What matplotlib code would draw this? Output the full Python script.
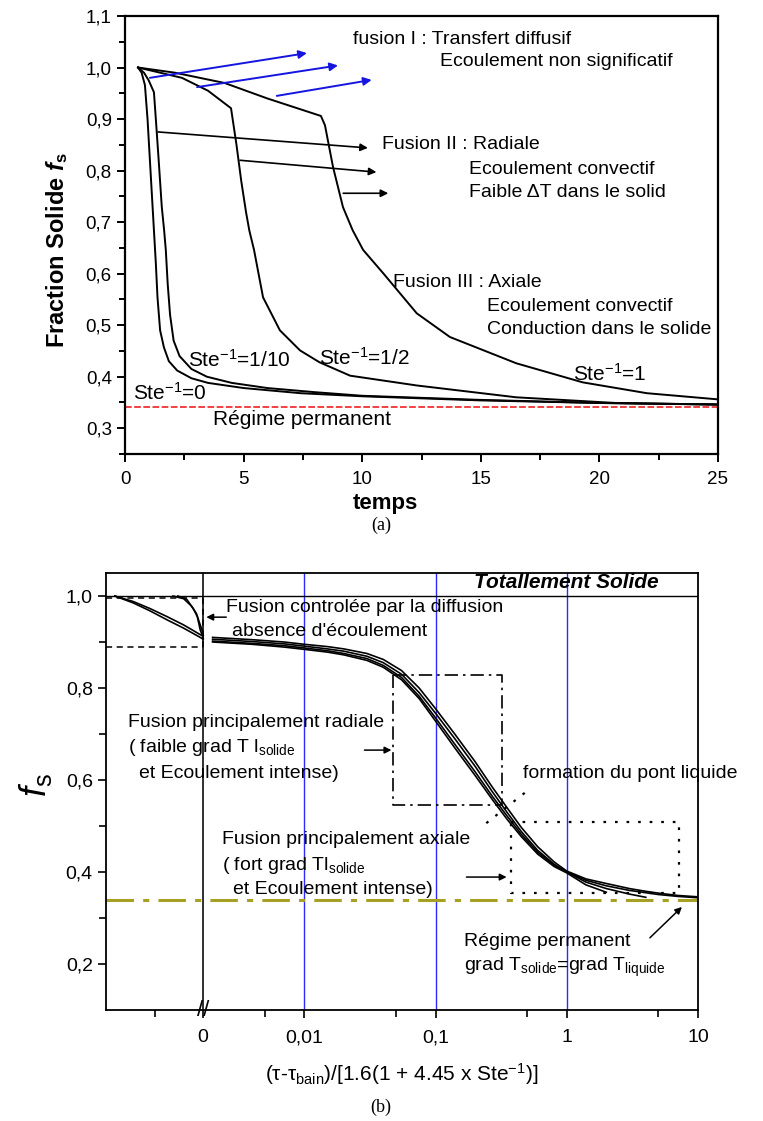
import numpy as np
import matplotlib
matplotlib.use('Agg')
import matplotlib.pyplot as plt
from matplotlib.ticker import FuncFormatter, MultipleLocator, FixedLocator
import matplotlib.transforms as mtransforms

plt.rcParams['font.family'] = ['Liberation Sans', 'DejaVu Sans']
plt.rcParams['mathtext.fontset'] = 'custom'
plt.rcParams['mathtext.rm'] = 'Liberation Sans'
plt.rcParams['mathtext.it'] = 'Liberation Sans:italic'
plt.rcParams['mathtext.bf'] = 'Liberation Sans:bold'
try:
    plt.rcParams['mathtext.bfit'] = 'Liberation Sans:italic:bold'
except Exception:
    pass
plt.rcParams['mathtext.default'] = 'regular'

# ---------------- data: panel (a) ----------------
t_ste0 = [0.55, 0.7, 0.84, 0.95, 1.05, 1.15, 1.22, 1.30, 1.37, 1.48, 1.64, 1.85, 2.2, 2.8, 3.5, 5.0, 7.4, 10, 15, 20, 25]
f_ste0 = [1.0, 0.99, 0.966, 0.90, 0.82, 0.74, 0.684, 0.62, 0.554, 0.49, 0.457, 0.43, 0.412, 0.397, 0.388, 0.378, 0.368, 0.362, 0.354, 0.349, 0.346]

t_ste10 = [0.55, 0.8, 1.0, 1.22, 1.30, 1.42, 1.55, 1.65, 1.72, 1.80, 1.90, 2.05, 2.3, 2.8, 3.45, 4.5, 6.0, 8.0, 10, 15, 20, 25]
f_ste10 = [1.0, 0.99, 0.975, 0.952, 0.90, 0.82, 0.73, 0.684, 0.646, 0.58, 0.52, 0.47, 0.44, 0.415, 0.40, 0.388, 0.378, 0.37, 0.363, 0.355, 0.349, 0.346]

t_ste2 = [0.55, 1.2, 2.4, 3.5, 4.47, 4.7, 4.9, 5.1, 5.24, 5.44, 5.82, 6.53, 7.38, 8.2, 9.49, 12.3, 16.5, 20.7, 25]
f_ste2 = [1.0, 0.993, 0.98, 0.955, 0.921, 0.85, 0.78, 0.72, 0.684, 0.646, 0.554, 0.49, 0.451, 0.428, 0.402, 0.383, 0.36, 0.349, 0.346]

t_ste1 = [0.55, 2.1, 4.2, 6.0, 8.26, 8.43, 8.77, 9.19, 9.6, 10.04, 10.9, 12.3, 13.7, 16.5, 19.3, 22.0, 25]
f_ste1 = [1.0, 0.99, 0.97, 0.94, 0.906, 0.888, 0.807, 0.729, 0.684, 0.646, 0.60, 0.523, 0.477, 0.426, 0.389, 0.368, 0.356]

steady_a = 0.341

# ---------------- data: panel (b) ----------------
xb_pre_grad = [-0.91, -0.72, -0.55, -0.37, -0.2, -0.03, 0.0]
fb_pre_g1 = [1.0, 0.988, 0.973, 0.955, 0.937, 0.916, 0.913]
fb_pre_g2 = [1.0, 0.985, 0.968, 0.948, 0.930, 0.910, 0.906]
xb_pre_s1 = [-0.31, -0.2, -0.12, -0.07, -0.03, -0.01, 0.0]
fb_pre_s1 = [1.0, 0.994, 0.978, 0.962, 0.937, 0.925, 0.915]
xb_pre_s2 = [-0.26, -0.17, -0.10, -0.06, -0.03, -0.01, 0.0]
fb_pre_s2 = [1.0, 0.993, 0.972, 0.955, 0.926, 0.915, 0.908]

xb = [0.002, 0.004, 0.007, 0.01, 0.015, 0.02, 0.03, 0.04, 0.055, 0.075, 0.1, 0.14, 0.2, 0.27, 0.35, 0.45, 0.6, 0.8, 1.0, 1.4, 2.0, 3.0, 4.0, 5.0, 7.0, 10]
fb_c1 = [0.910, 0.905, 0.900, 0.895, 0.890, 0.885, 0.875, 0.862, 0.838, 0.800, 0.755, 0.700, 0.640, 0.585, 0.540, 0.497, 0.455, 0.422, 0.402, 0.385, 0.375, 0.364, 0.358, 0.354, 0.349, 0.346]
fb_c2 = [0.906, 0.901, 0.896, 0.891, 0.885, 0.880, 0.869, 0.855, 0.830, 0.790, 0.745, 0.690, 0.630, 0.575, 0.530, 0.488, 0.447, 0.417, 0.400, 0.382, 0.370, 0.360, 0.355, 0.351, 0.347, 0.344]
fb_c3 = [0.902, 0.897, 0.892, 0.887, 0.881, 0.875, 0.864, 0.849, 0.823, 0.782, 0.735, 0.678, 0.618, 0.565, 0.522, 0.482, 0.443, 0.415, 0.400, 0.378, 0.364, 0.352, 0.345]
fb_c4 = [0.900, 0.895, 0.889, 0.884, 0.878, 0.872, 0.860, 0.845, 0.818, 0.777, 0.728, 0.670, 0.610, 0.558, 0.515, 0.477, 0.439, 0.412, 0.398, 0.372, 0.356]
steady_b = 0.34

# ---------------- figure ----------------
W_PX, H_PX = 763, 1121
fig = plt.figure(figsize=(W_PX / 100, H_PX / 100), dpi=100)

def frac_box(l, t, r, b):
    return [l / W_PX, 1 - b / H_PX, (r - l) / W_PX, (b - t) / H_PX]

comma = FuncFormatter(lambda v, p: ('%.1f' % v).replace('.', ','))

# ================= panel (a) =================
ax = fig.add_axes(frac_box(125, 16, 718, 454))
for tt, ff in [(t_ste0, f_ste0), (t_ste10, f_ste10), (t_ste2, f_ste2), (t_ste1, f_ste1)]:
    ax.plot(tt, ff, color='black', lw=1.4)
ax.axhline(steady_a, color='#f02020', lw=1.2, ls=(0, (4, 1.5)))
ax.set_xlim(0, 25)
ax.set_ylim(0.25, 1.1)
ax.xaxis.set_major_locator(MultipleLocator(5))
ax.xaxis.set_minor_locator(MultipleLocator(2.5))
ax.yaxis.set_major_locator(MultipleLocator(0.1))
ax.yaxis.set_minor_locator(MultipleLocator(0.05))
ax.yaxis.set_major_formatter(comma)
ax.tick_params(which='both', direction='out', width=1.4, labelsize=13.5, top=False, right=False)
ax.tick_params(which='major', length=6)
ax.tick_params(which='minor', length=4)
ax.tick_params(axis='x', pad=6)
for s in ax.spines.values():
    s.set_linewidth(1.6)
ax.set_ylabel(r'Fraction Solide $\mathbfit{f}_{s}$', fontsize=17, fontweight='bold')
ax.yaxis.set_label_coords(-0.093, 0.466)
ax.set_xlabel('temps', fontsize=16, fontweight='bold')
ax.xaxis.set_label_coords((385 - 125) / 593, -0.090)

blue_arrows = [((1.05, 0.98), (7.67, 1.028)), ((3.04, 0.962), (8.98, 1.004)), ((6.4, 0.945), (10.4, 0.976))]
for s, e in blue_arrows:
    ax.annotate('', xy=e, xytext=s, arrowprops=dict(arrowstyle='-|>', color='#1515e0', lw=1.4,
                                                    mutation_scale=12, shrinkA=0, shrinkB=0))
black_arrows = [((1.39, 0.875), (10.24, 0.844)), ((4.85, 0.82), (10.6, 0.797)), ((9.2, 0.756), (11.1, 0.756))]
for s, e in black_arrows:
    ax.annotate('', xy=e, xytext=s, arrowprops=dict(arrowstyle='-|>', color='black', lw=1.2,
                                                    mutation_scale=11, shrinkA=0, shrinkB=0))

tk = dict(fontsize=14, ha='left', va='center')
ax.text(9.6, 1.055, 'fusion I : Transfert diffusif', **tk)
ax.text(13.3, 1.011, 'Ecoulement non significatif', **tk)
ax.text(10.85, 0.851, 'Fusion II : Radiale', **tk)
ax.text(14.5, 0.803, 'Ecoulement convectif', **tk)
ax.text(14.5, 0.758, 'Faible ΔT dans le solid', **tk)
ax.text(11.3, 0.583, 'Fusion III : Axiale', **tk)
ax.text(15.26, 0.537, 'Ecoulement convectif', **tk)
ax.text(15.26, 0.492, 'Conduction dans le solide', **tk)
sk = dict(fontsize=15, ha='left', va='center')
ax.text(18.9, 0.405, r'Ste$^{-1}$=1', **sk)
ax.text(8.18, 0.436, r'Ste$^{-1}$=1/2', **sk)
ax.text(2.66, 0.432, r'Ste$^{-1}$=1/10', **sk)
ax.text(0.35, 0.368, r'Ste$^{-1}$=0', **sk)
ax.text(3.7, 0.316, 'Régime permanent', **sk)

fig.text(381 / W_PX, 1 - 525 / H_PX, '(a)', family='Liberation Serif', fontsize=13, ha='center', va='center')

# ================= panel (b) =================
DEC_PX = 131.0
LEFT_UNITS = 97.0 / DEC_PX
X0 = 10 ** (-2 - 101.0 / DEC_PX)

def fwd(x):
    x = np.asarray(x, dtype=float)
    pos = np.log10(np.clip(x, X0, None) / X0)
    return np.where(x > 0, pos, x * LEFT_UNITS)

def inv(u):
    u = np.asarray(u, dtype=float)
    return np.where(u > 0, X0 * 10 ** np.clip(u, -10, 10), u / LEFT_UNITS)

bx = fig.add_axes(frac_box(106, 573, 698, 1010))
bx.set_xscale('function', functions=(fwd, inv))
bx.set_xlim(-1, 10)
bx.set_ylim(0.1, 1.05)

for xv in [0.01, 0.1, 1]:
    bx.axvline(xv, color='#2b2bff', lw=1.0)
bx.axvline(0, color='#303030', lw=1.4)
bx.axhline(1.0, color='black', lw=1.0)
bx.axhline(steady_b, color='#a6a024', lw=2.2, dashes=(9, 3, 2, 3))

for xx, ff in [(xb_pre_grad, fb_pre_g1), (xb_pre_grad, fb_pre_g2), (xb_pre_s1, fb_pre_s1), (xb_pre_s2, fb_pre_s2)]:
    bx.plot(xx, ff, color='black', lw=1.2)
for ff in [fb_c1, fb_c2, fb_c3, fb_c4]:
    bx.plot(xb[:len(ff)], ff, color='black', lw=1.2)

# region boxes
diff_box = (-1.0, 0.0, 0.889, 0.995)
radial_box = (0.047, 0.32, 0.546, 0.828)
axial_box = (0.374, 7.16, 0.354, 0.509)
l, r, b_, t_ = diff_box
bx.plot([l, r], [t_, t_], color='black', lw=1.1, ls=(0, (4, 3)))
bx.plot([l, r], [b_, b_], color='black', lw=1.1, ls=(0, (4, 3)))
bx.plot([r, r], [b_, t_], color='black', lw=1.1, ls=(0, (4, 3)))
l, r, b_, t_ = radial_box
bx.plot([l, r, r, l, l], [t_, t_, b_, b_, t_], color='black', lw=1.2, ls=(0, (8, 3, 1.5, 3)))
l, r, b_, t_ = axial_box
bx.plot([l, r, r, l, l], [t_, t_, b_, b_, t_], color='black', lw=1.6, ls=(0, (1.2, 4)))
bx.plot([0.478, 0.224], [0.572, 0.498], color='black', lw=1.6, ls=(0, (1.2, 4)))

bx.set_xticks([0, 0.01, 0.1, 1, 10])
bx.set_xticklabels(['0', '0,01', '0,1', '1', '10'])
bx.set_xticks([-0.5, 0.005, 0.05, 0.5, 5], minor=True)
bx.yaxis.set_major_locator(FixedLocator([0.2, 0.4, 0.6, 0.8, 1.0]))
bx.yaxis.set_minor_locator(FixedLocator([0.3, 0.5, 0.7, 0.9]))
bx.yaxis.set_major_formatter(comma)
bx.tick_params(which='both', direction='out', width=1.2, labelsize=14, top=False, right=False)
bx.tick_params(which='major', length=6)
bx.tick_params(which='minor', length=5)
bx.tick_params(axis='x', pad=8)
for s in bx.spines.values():
    s.set_linewidth(1.3)
bx.set_ylabel(r'$\mathit{f}_{s}$', fontsize=26)
bx.yaxis.set_label_coords(-0.088, 0.515)
bx.set_xlabel(r'(τ-τ$_{bain}$)/[1.6(1 + 4.45 x Ste$^{-1}$)]', fontsize=15)
bx.xaxis.set_label_coords(0.5, -0.118)

# axis break marks
trans = mtransforms.blended_transform_factory(bx.transData, bx.transAxes)
bx.text(0, 0.0, '//', transform=trans, fontsize=16, ha='center', va='center', clip_on=False)

bk = dict(fontsize=14, ha='left', va='center')
bx.text(1.0, 1.03, 'Totallement Solide', fontsize=15, fontweight='bold', style='italic', ha='center', va='center')
bx.text(0.00254, 0.974, 'Fusion controlée par la diffusion', **bk)
bx.text(0.00282, 0.922, "absence d'écoulement", **bk)
bx.text(-0.773, 0.724, 'Fusion principalement radiale', **bk)
bx.text(-0.773, 0.670, r'( faible grad T l$_{solide}$', **bk)
bx.text(-0.66, 0.615, 'et Ecoulement intense)', **bk)
bx.text(0.461, 0.615, 'formation du pont liquide', **bk)
bx.text(0.00237, 0.470, 'Fusion principalement axiale', **bk)
bx.text(0.00237, 0.415, r'( fort grad Tl$_{solide}$', **bk)
bx.text(0.00287, 0.361, 'et Ecoulement intense)', **bk)
bx.text(0.166, 0.248, 'Régime permanent', **bk)
bx.text(0.166, 0.193, r'grad T$_{solide}$=grad T$_{liquide}$', **bk)

arrow_b = [((0.00254, 0.954), (0.00179, 0.954)), ((0.0287, 0.665), (0.0461, 0.665)),
           ((0.172, 0.389), (0.348, 0.389)), ((4.30, 0.257), (7.54, 0.324))]
for s, e in arrow_b:
    bx.annotate('', xy=e, xytext=s, arrowprops=dict(arrowstyle='-|>', color='black', lw=1.1,
                                                    mutation_scale=10, shrinkA=0, shrinkB=0))

fig.text(381 / W_PX, 1 - 1107 / H_PX, '(b)', family='Liberation Serif', fontsize=13, ha='center', va='center')

fig.savefig('out.png', dpi=100)
